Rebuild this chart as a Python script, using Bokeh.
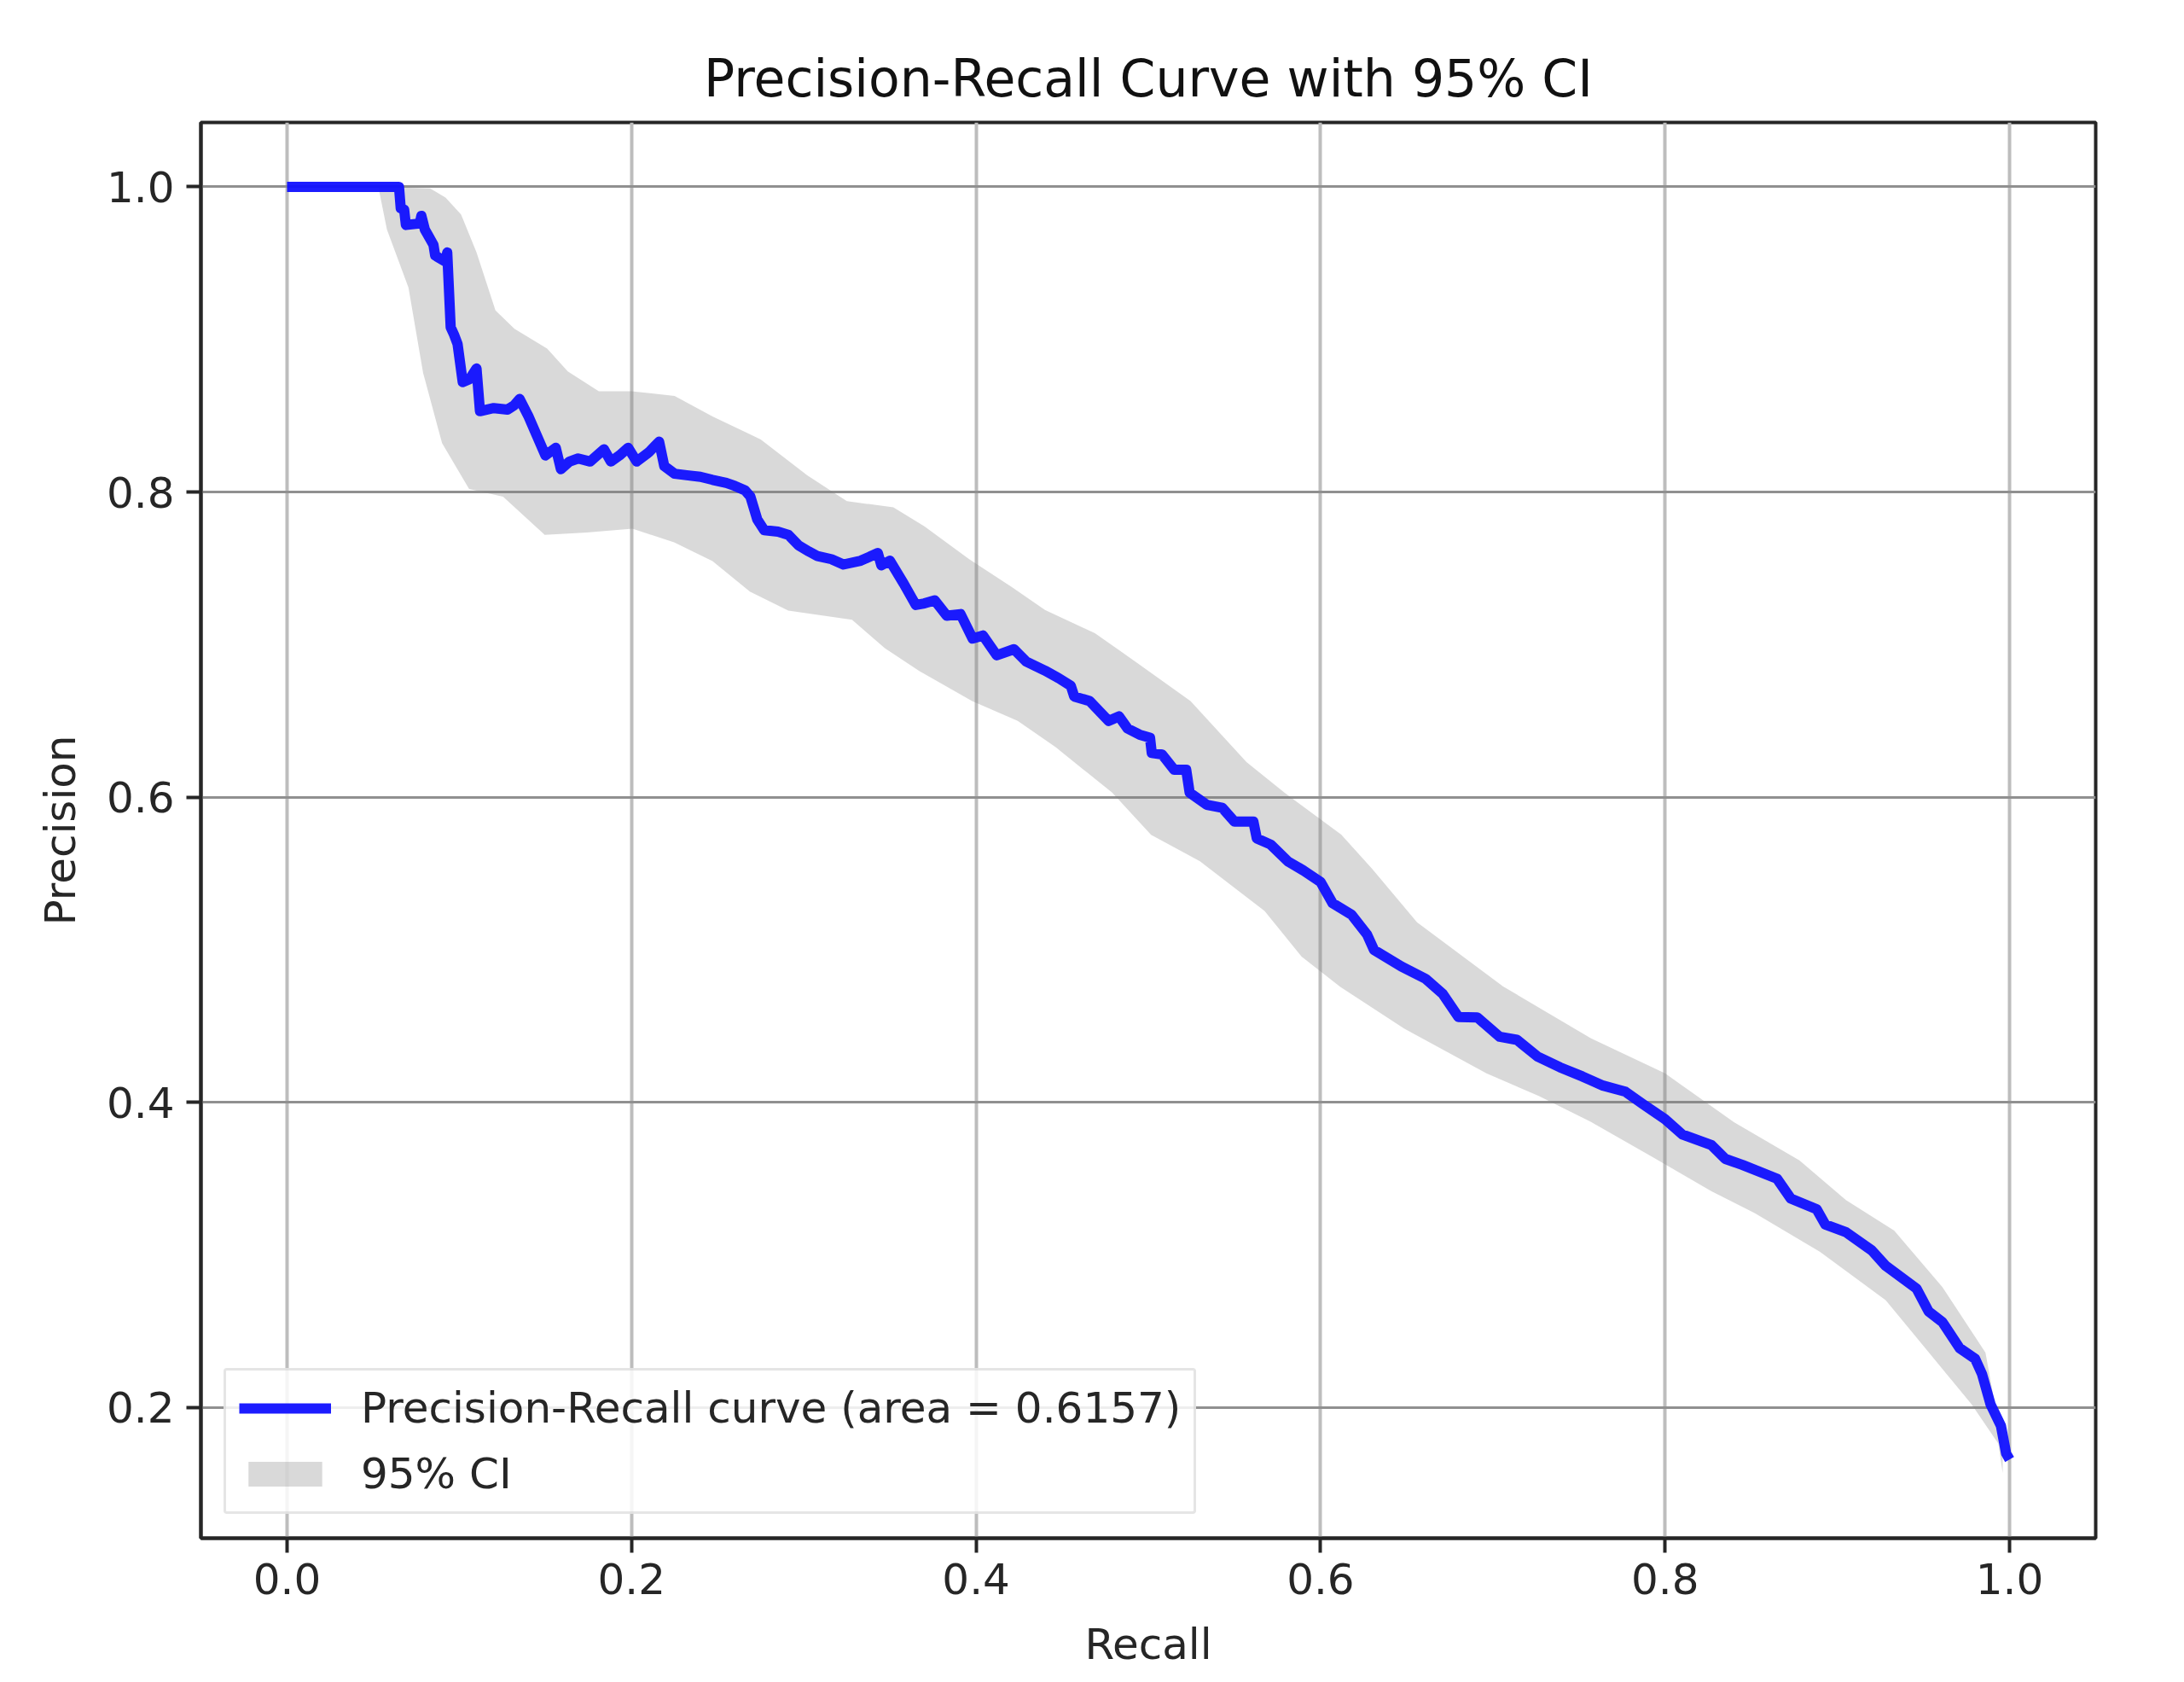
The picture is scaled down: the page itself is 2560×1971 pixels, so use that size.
from bokeh.plotting import figure
from bokeh.models import FixedTicker, PrintfTickFormatter
from bokeh.embed import file_html
from bokeh.resources import INLINE

# ---- data ----
recall = [0.000, 0.065, 0.066, 0.068, 0.069, 0.077, 0.078, 0.080, 0.085, 0.086,
          0.092, 0.093, 0.095, 0.097, 0.099, 0.102, 0.106, 0.110, 0.112, 0.120,
          0.128, 0.132, 0.135, 0.140, 0.145, 0.150, 0.156, 0.159, 0.164, 0.169,
          0.176, 0.184, 0.188, 0.193, 0.198, 0.203, 0.210, 0.216, 0.219, 0.225,
          0.232, 0.240, 0.247, 0.255, 0.260, 0.266, 0.269, 0.273, 0.277, 0.285,
          0.291, 0.297, 0.303, 0.308, 0.316, 0.323, 0.333, 0.343, 0.345, 0.350,
          0.358, 0.365, 0.370, 0.376, 0.383, 0.391, 0.398, 0.404, 0.412, 0.422,
          0.429, 0.440, 0.448, 0.455, 0.457, 0.466, 0.477, 0.483, 0.488, 0.495,
          0.501, 0.502, 0.508, 0.515, 0.522, 0.524, 0.534, 0.543, 0.550, 0.561,
          0.563, 0.571, 0.581, 0.590, 0.600, 0.607, 0.618, 0.627, 0.631, 0.647,
          0.661, 0.671, 0.680, 0.691, 0.704, 0.714, 0.726, 0.739, 0.752, 0.764,
          0.777, 0.787, 0.800, 0.810, 0.827, 0.835, 0.845, 0.865, 0.873, 0.888,
          0.893, 0.905, 0.920, 0.928, 0.946, 0.953, 0.961, 0.971, 0.980, 0.984,
          0.989, 0.995, 0.998, 1.000]
precision = [1.000, 1.000, 0.986, 0.985, 0.975, 0.976, 0.981, 0.972, 0.962, 0.955,
             0.951, 0.957, 0.908, 0.903, 0.897, 0.872, 0.874, 0.881, 0.853, 0.855,
             0.854, 0.857, 0.861, 0.850, 0.837, 0.824, 0.829, 0.815, 0.820, 0.822,
             0.820, 0.828, 0.820, 0.824, 0.829, 0.820, 0.826, 0.833, 0.817, 0.812,
             0.811, 0.810, 0.808, 0.806, 0.804, 0.801, 0.797, 0.782, 0.775, 0.774,
             0.772, 0.765, 0.761, 0.758, 0.756, 0.7525, 0.755, 0.760, 0.752, 0.755,
             0.740, 0.726, 0.727, 0.729, 0.719, 0.720, 0.704, 0.706, 0.693, 0.697,
             0.689, 0.683, 0.678, 0.673, 0.666, 0.663, 0.650, 0.653, 0.645, 0.641,
             0.639, 0.629, 0.628, 0.618, 0.618, 0.603, 0.595, 0.593, 0.584, 0.584,
             0.573, 0.569, 0.558, 0.552, 0.5445, 0.5305, 0.523, 0.510, 0.500, 0.489,
             0.481, 0.471, 0.456, 0.4557, 0.443, 0.441, 0.430, 0.423, 0.417, 0.411,
             0.407, 0.399, 0.389, 0.379, 0.372, 0.363, 0.359, 0.350, 0.337, 0.330,
             0.320, 0.315, 0.303, 0.293, 0.278, 0.263, 0.256, 0.239, 0.232, 0.222,
             0.202, 0.188, 0.170, 0.166]

ci_upper_recall = [0.053, 0.083, 0.092, 0.101, 0.110, 0.121, 0.132, 0.151, 0.163, 0.181,
                   0.200, 0.225, 0.247, 0.275, 0.302, 0.325, 0.352, 0.370, 0.396, 0.421,
                   0.440, 0.469, 0.494, 0.5245, 0.557, 0.579, 0.612, 0.630, 0.656, 0.706,
                   0.757, 0.800, 0.815, 0.840, 0.878, 0.905, 0.933, 0.961, 0.986, 0.991,
                   0.996]
ci_upper = [1.000, 0.999, 0.993, 0.982, 0.957, 0.919, 0.907, 0.894, 0.879, 0.866,
            0.866, 0.863, 0.8495, 0.8345, 0.811, 0.794, 0.790, 0.7775, 0.756, 0.7375,
            0.7227, 0.7075, 0.6877, 0.663, 0.623, 0.603, 0.5755, 0.553, 0.518, 0.476,
            0.442, 0.419, 0.407, 0.387, 0.362, 0.336, 0.316, 0.279, 0.236, 0.205,
            0.180]

ci_lower_recall = [0.053, 0.058, 0.0705, 0.079, 0.090, 0.1057, 0.1254, 0.1496, 0.174, 0.2005,
                   0.2247, 0.247, 0.2687, 0.291, 0.328, 0.347, 0.367, 0.3977, 0.4242, 0.4462,
                   0.479, 0.5016, 0.530, 0.5675, 0.589, 0.6115, 0.6485, 0.6963, 0.7264, 0.7566,
                   0.792, 0.827, 0.852, 0.890, 0.928, 0.953, 0.978, 0.9935, 0.996]
ci_lower = [1.000, 0.972, 0.934, 0.878, 0.832, 0.802, 0.797, 0.772, 0.7735, 0.776,
            0.767, 0.7547, 0.7348, 0.7223, 0.7163, 0.6977, 0.6827, 0.663, 0.650, 0.6328,
            0.603, 0.5754, 0.558, 0.5255, 0.4956, 0.4757, 0.4484, 0.419, 0.4044, 0.3875,
            0.3646, 0.3417, 0.3275, 0.302, 0.2705, 0.2363, 0.202, 0.1764, 0.157]

x_ticks = [0.0, 0.2, 0.4, 0.6, 0.8, 1.0]
y_ticks = [0.2, 0.4, 0.6, 0.8, 1.0]

FONT = "DejaVu Sans"
TXT = "#262626"
DARK = "#262626"
FS = "50px"

p = figure(width=2560, height=1971, output_backend="svg", toolbar_location=None,
           x_range=(-0.05, 1.05), y_range=(0.1144, 1.0422),
           min_border_left=235, min_border_right=104, min_border_top=143,
           min_border_bottom=169,
           title="Precision-Recall Curve with 95% CI")

p.title.text_font = FONT
p.title.text_font_size = "60px"
p.title.text_font_style = "normal"
p.title.text_color = "#111111"
p.title.align = "center"
p.title.standoff = 34

band_x = ci_upper_recall + ci_lower_recall[::-1]
band_y = ci_upper + ci_lower[::-1]
p.patch(band_x, band_y, fill_color="grey", fill_alpha=0.3, line_color=None,
        legend_label="95% CI")
p.line(recall, precision, line_color="#1010ff", line_alpha=0.95, line_width=12,
       line_join="round", legend_label="Precision-Recall curve (area = 0.6157)")

# curve first in the legend
items = p.legend[0].items
p.legend[0].items = [items[1], items[0]]

for ax in (p.xaxis[0], p.yaxis[0]):
    ax.axis_line_color = DARK
    ax.axis_line_width = 4
    ax.major_tick_line_color = DARK
    ax.major_tick_line_width = 4
    ax.major_tick_out = 17
    ax.major_tick_in = 0
    ax.minor_tick_line_color = None
    ax.major_label_text_font = FONT
    ax.major_label_text_font_size = FS
    ax.major_label_text_color = TXT
    ax.axis_label_text_font = FONT
    ax.axis_label_text_font_size = FS
    ax.axis_label_text_font_style = "normal"
    ax.axis_label_text_color = TXT
    ax.formatter = PrintfTickFormatter(format="%.1f")

p.xaxis.ticker = FixedTicker(ticks=x_ticks)
p.yaxis.ticker = FixedTicker(ticks=y_ticks)
p.xaxis.axis_label = "Recall"
p.yaxis.axis_label = "Precision"
p.xaxis.major_label_standoff = 12
p.yaxis.major_label_standoff = 14
p.xaxis.axis_label_standoff = 27
p.yaxis.axis_label_standoff = 22

p.xgrid.ticker = FixedTicker(ticks=x_ticks)
p.ygrid.ticker = FixedTicker(ticks=y_ticks)
p.xgrid.grid_line_color = "#bdbdbd"
p.xgrid.grid_line_width = 4
p.ygrid.grid_line_color = "#909090"
p.ygrid.grid_line_width = 3

p.outline_line_color = DARK
p.outline_line_width = 4
p.outline_line_alpha = 1.0

lg = p.legend[0]
lg.location = (27, 28)
lg.label_text_font = FONT
lg.label_text_font_size = FS
lg.label_text_color = TXT
lg.glyph_width = 108
lg.glyph_height = 36
lg.label_standoff = 35
lg.padding = 15
lg.spacing = 19
lg.margin = 0
lg.border_line_color = "#cccccc"
lg.border_line_width = 3
lg.background_fill_alpha = 0.85
lg.border_radius = 4

open("out.html", "w").write(file_html(p, INLINE))
